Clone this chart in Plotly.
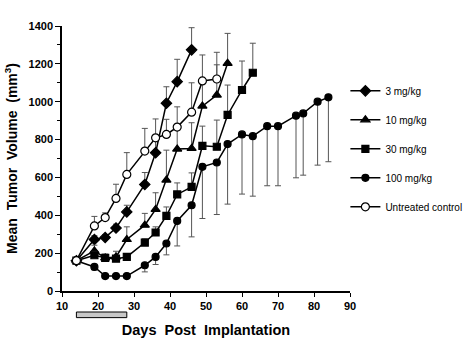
import plotly.graph_objects as go

# ---- data ----
days_ctrl = [14, 19, 22, 25, 28, 33, 36, 39, 42, 46, 49, 53]
vol_ctrl = [160, 344, 388, 489, 616, 739, 809, 827, 866, 945, 1110, 1120]
err_ctrl = [0, 50, 25, 75, 115, 120, 100, 80, 107, 155, 137, 141]

days_3 = [14, 19, 22, 25, 28, 33, 36, 39, 42, 46]
vol_3 = [160, 272, 283, 333, 418, 563, 730, 992, 1106, 1274]
err_3 = [0, 20, 15, 20, 35, 63, 80, 87, 118, 117]

days_10 = [14, 19, 22, 25, 28, 33, 36, 39, 42, 46, 49, 53, 56]
vol_10 = [160, 212, 175, 180, 272, 348, 431, 586, 750, 753, 977, 1035, 1203]
err_10 = [0, 30, 20, 30, 67, 62, 88, 158, 100, 136, 130, 160, 158]

days_30 = [14, 19, 22, 25, 28, 33, 36, 39, 42, 46, 49, 53, 56, 60, 63]
vol_30 = [160, 189, 175, 171, 180, 256, 309, 397, 510, 550, 767, 762, 930, 1062, 1153]
err_30 = [0, 20, 15, 15, 15, 20, 30, 47, 61, 74, 104, 141, 158, 153, 156]

days_100 = [14, 19, 22, 25, 28, 33, 36, 39, 42, 46, 49, 53, 56, 60, 63, 67, 70, 75, 77, 81, 84]
vol_100 = [160, 127, 79, 79, 79, 136, 180, 251, 370, 453, 656, 679, 776, 827, 818, 871, 871, 926, 938, 1000, 1023]
err_100 = [0, 15, 10, 10, 10, 35, 40, 60, 132, 167, 273, 275, 317, 315, 317, 315, 315, 328, 326, 335, 340]

dosing_period = [14, 28]

x_ticks = [10, 20, 30, 40, 50, 60, 70, 80, 90]
y_ticks = [0, 200, 400, 600, 800, 1000, 1200, 1400]

FONT = "Liberation Sans, Arial, sans-serif"

fig = go.Figure()


def add(name, xs, ys, errs, symbol, size, fill="black", down=False):
    zeros = [0] * len(errs)
    fig.add_trace(go.Scatter(
        x=xs, y=ys, name=name, mode="lines+markers", legendgroup=name,
        line=dict(color="black", width=1.5),
        marker=dict(symbol=symbol, size=size, color=fill,
                    line=dict(color="black", width=1.2)),
        error_y=dict(type="data", symmetric=False,
                     array=zeros if down else errs,
                     arrayminus=errs if down else zeros,
                     color="#555555", thickness=1, width=3),
    ))


add("3 mg/kg", days_3, vol_3, err_3, "diamond", 8)
add("10 mg/kg", days_10, vol_10, err_10, "triangle-up", 8)
add("30 mg/kg", days_30, vol_30, err_30, "square", 7)
add("100 mg/kg", days_100, vol_100, err_100, "circle", 7, down=True)
add("Untreated control", days_ctrl, vol_ctrl, err_ctrl, "circle", 8, fill="white")

# dosing period bar below the x axis
fig.add_shape(type="rect", xref="x", yref="paper",
              x0=dosing_period[0], x1=dosing_period[1], y0=-0.1005, y1=-0.0793,
              fillcolor="#c8c8c8", line=dict(color="black", width=1))

fig.update_layout(
    width=466, height=353,
    margin=dict(l=62, r=116, t=26, b=62, autoexpand=False),
    paper_bgcolor="white", plot_bgcolor="white",
    font=dict(family=FONT, color="black"),
    showlegend=True,
    legend=dict(x=0.984, xanchor="left", y=0.81, yanchor="top",
                font=dict(size=10, family=FONT), itemwidth=30,
                tracegroupgap=10, traceorder="grouped",
                bgcolor="rgba(0,0,0,0)", borderwidth=0),
)

fig.update_xaxes(
    range=[10, 90], tickvals=x_ticks, showgrid=False, zeroline=False,
    showline=True, linecolor="black", linewidth=1.5,
    ticks="outside", ticklen=4, tickwidth=1.2, tickcolor="black",
    tickfont=dict(size=11, family=FONT, weight="bold"),
    title=dict(text="Days&nbsp; Post&nbsp; Implantation", standoff=14,
               font=dict(size=14.5, family=FONT, weight="bold")),
)
fig.update_yaxes(
    range=[0, 1400], tickvals=y_ticks, showgrid=False, zeroline=False,
    showline=True, linecolor="black", linewidth=1.5,
    ticks="outside", ticklen=5, tickwidth=1.2, tickcolor="black",
    minor=dict(dtick=100, ticks="outside", ticklen=3, tickcolor="black"),
    tickfont=dict(size=11, family=FONT, weight="bold"),
    title=dict(text="Mean&nbsp; Tumor&nbsp; Volume&nbsp; (mm<sup>3</sup>)", standoff=8,
               font=dict(size=14, family=FONT, weight="bold")),
)

fig.write_html("out.html")
